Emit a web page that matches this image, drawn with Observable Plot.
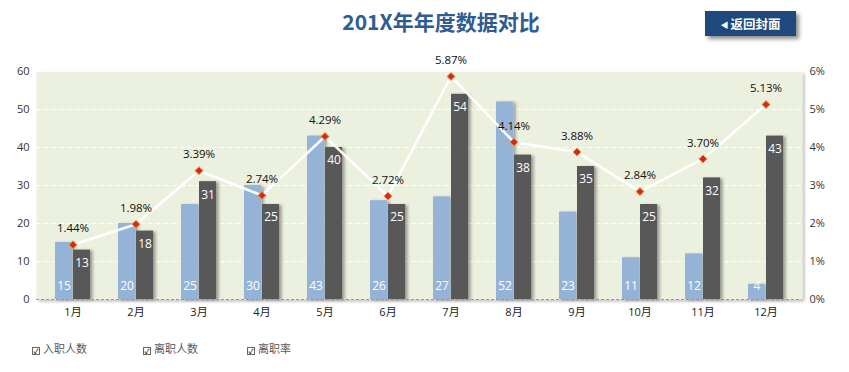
<!DOCTYPE html>
<html>
<head>
<meta charset="utf-8">
<script src="https://cdn.jsdelivr.net/npm/d3@7"></script>
<script src="https://cdn.jsdelivr.net/npm/@observablehq/plot@0.6"></script>
<style>
  html, body { margin: 0; padding: 0; background: #fff; }
  #wrap { position: relative; width: 849px; height: 372px; overflow: hidden;
    font-family: "Segoe UI", "Open Sans", "Noto Sans CJK SC", sans-serif; }
  #title { position: absolute; left: 0; width: 882px; top: 6px; text-align: center;
    font-family: "Noto Sans CJK SC", sans-serif; font-weight: 700; font-size: 21px; color: #2F5C91; line-height: 30px; }
  #btn { position: absolute; left: 705px; top: 11px; width: 91px; height: 25px; background: #1F497D;
    box-shadow: 3px 3px 4px rgba(0,0,0,0.45); color: #fff; font-family: "Noto Sans CJK SC", sans-serif;
    font-weight: 700; font-size: 12.5px; line-height: 25px; text-align: center; }
  #btn .tri { font-size: 8px; vertical-align: 1px; margin-right: 2px; }
  #chart { position: absolute; left: 0; top: 45px; }
  .leg { position: absolute; top: 341px; font-family: "Noto Sans CJK SC", sans-serif; font-size: 11px; color: #595959; line-height: 14px; }
  .box { display: inline-block; width: 6px; height: 6px; border: 1.5px solid #666; background: #fff; vertical-align: -1px; margin-right: 3px; position: relative; font-size: 7px; line-height: 6px; text-align: center; color: #222; font-weight: 700; }
</style>
</head>
<body>
<div id="wrap">
  <div id="title">201X年年度数据对比</div>
  <div id="btn"><span class="tri">◀</span>返回封面</div>
  <div id="chart"></div>
  <div class="leg" style="left:32px"><span class="box">✓</span>入职人数</div>
  <div class="leg" style="left:143px"><span class="box">✓</span>离职人数</div>
  <div class="leg" style="left:247px"><span class="box">✓</span>离职率</div>
</div>
<script>
const months = ["1月","2月","3月","4月","5月","6月","7月","8月","9月","10月","11月","12月"];
const hires  = [15, 20, 25, 30, 43, 26, 27, 52, 23, 11, 12, 4];
const leaves = [13, 18, 31, 25, 40, 25, 54, 38, 35, 25, 32, 43];
const rates  = [1.44, 1.98, 3.39, 2.74, 4.29, 2.72, 5.87, 4.14, 3.88, 2.84, 3.70, 5.13];
const leftTicks = [0, 10, 20, 30, 40, 50, 60];
const rightTicks = [0, 1, 2, 3, 4, 5, 6];

const data = months.map((m, i) => ({month: m, hire: hires[i], leave: leaves[i], rate: rates[i]}));

const W = 849, H = 285, ML = 36, MR = 47;
const bw = (W - ML - MR) / 12;

const svg = Plot.plot({
  width: W, height: H,
  marginLeft: ML, marginRight: MR, marginTop: 26, marginBottom: 31,
  style: {fontFamily: "'Segoe UI', 'Open Sans', 'Noto Sans CJK SC', sans-serif", fontSize: "11px", color: "#333", background: "transparent"},
  x: {type: "band", domain: months, padding: 0, label: null},
  y: {domain: [0, 60], label: null},
  marks: [
    Plot.frame({fill: "#EBF0DF", stroke: null}),
    Plot.ruleY(leftTicks.filter(d => d > 0), {stroke: "#fff", strokeDasharray: "5,3", strokeWidth: 1}),
    Plot.barY(data, {x: "month", y: "hire", fill: "#95B3D7", insetLeft: 14, insetRight: bw - 32}),
    Plot.barY(data, {x: "month", y: "leave", fill: "#595959", insetLeft: 32, insetRight: bw - 50}),
    Plot.ruleY([0], {stroke: "#9a9a9a", strokeDasharray: "3,2", strokeWidth: 1.2}),
    Plot.text(data, {x: "month", y: 0, text: d => String(d.hire), dx: -9, dy: -13, fill: "#fff", fontSize: 12}),
    Plot.text(data, {x: "month", y: "leave", text: d => String(d.leave), dx: 9, dy: 13, fill: "#fff", fontSize: 12}),
    Plot.line(data, {x: "month", y: d => d.rate * 10, stroke: "#fff", strokeWidth: 2.6, strokeOpacity: 0.95}),
    Plot.dot(data, {x: "month", y: d => d.rate * 10, symbol: "diamond2", r: 3.6, fill: "#D9261C", stroke: "#E8A13A", strokeWidth: 1}),
    Plot.text(data, {x: "month", y: d => d.rate * 10, text: d => d.rate.toFixed(2) + "%", dy: -16, fill: "#111", fontSize: 11.5}),
    Plot.axisY(leftTicks, {anchor: "left", tickSize: 0, tickPadding: 7, label: null, fill: "#333"}),
    Plot.axisY(rightTicks.map(d => d * 10), {anchor: "right", tickSize: 0, tickPadding: 7, label: null, tickFormat: d => (d / 10) + "%", fill: "#333"}),
    Plot.axisX({tickSize: 0, tickPadding: 9, label: null, fill: "#222"})
  ]
});

// drop shadows
const s = d3.select(svg);
const defs = s.insert("defs", ":first-child");
const f = defs.append("filter").attr("id", "sh").attr("x", "-20%").attr("y", "-20%").attr("width", "150%").attr("height", "150%");
f.append("feDropShadow").attr("dx", 2.5).attr("dy", 1).attr("stdDeviation", 1.5).attr("flood-color", "#000").attr("flood-opacity", 0.35);
const f2 = defs.append("filter").attr("id", "sh2").attr("x", "-5%").attr("y", "-5%").attr("width", "110%").attr("height", "115%");
f2.append("feDropShadow").attr("dx", 2).attr("dy", 2).attr("stdDeviation", 1.5).attr("flood-color", "#000").attr("flood-opacity", 0.25);
s.selectAll('g[aria-label="bar"]').selectAll("rect").attr("filter", "url(#sh)");
s.selectAll('[aria-label="frame"]').attr("filter", "url(#sh2)");

document.getElementById("chart").appendChild(svg);
</script>
</body>
</html>
